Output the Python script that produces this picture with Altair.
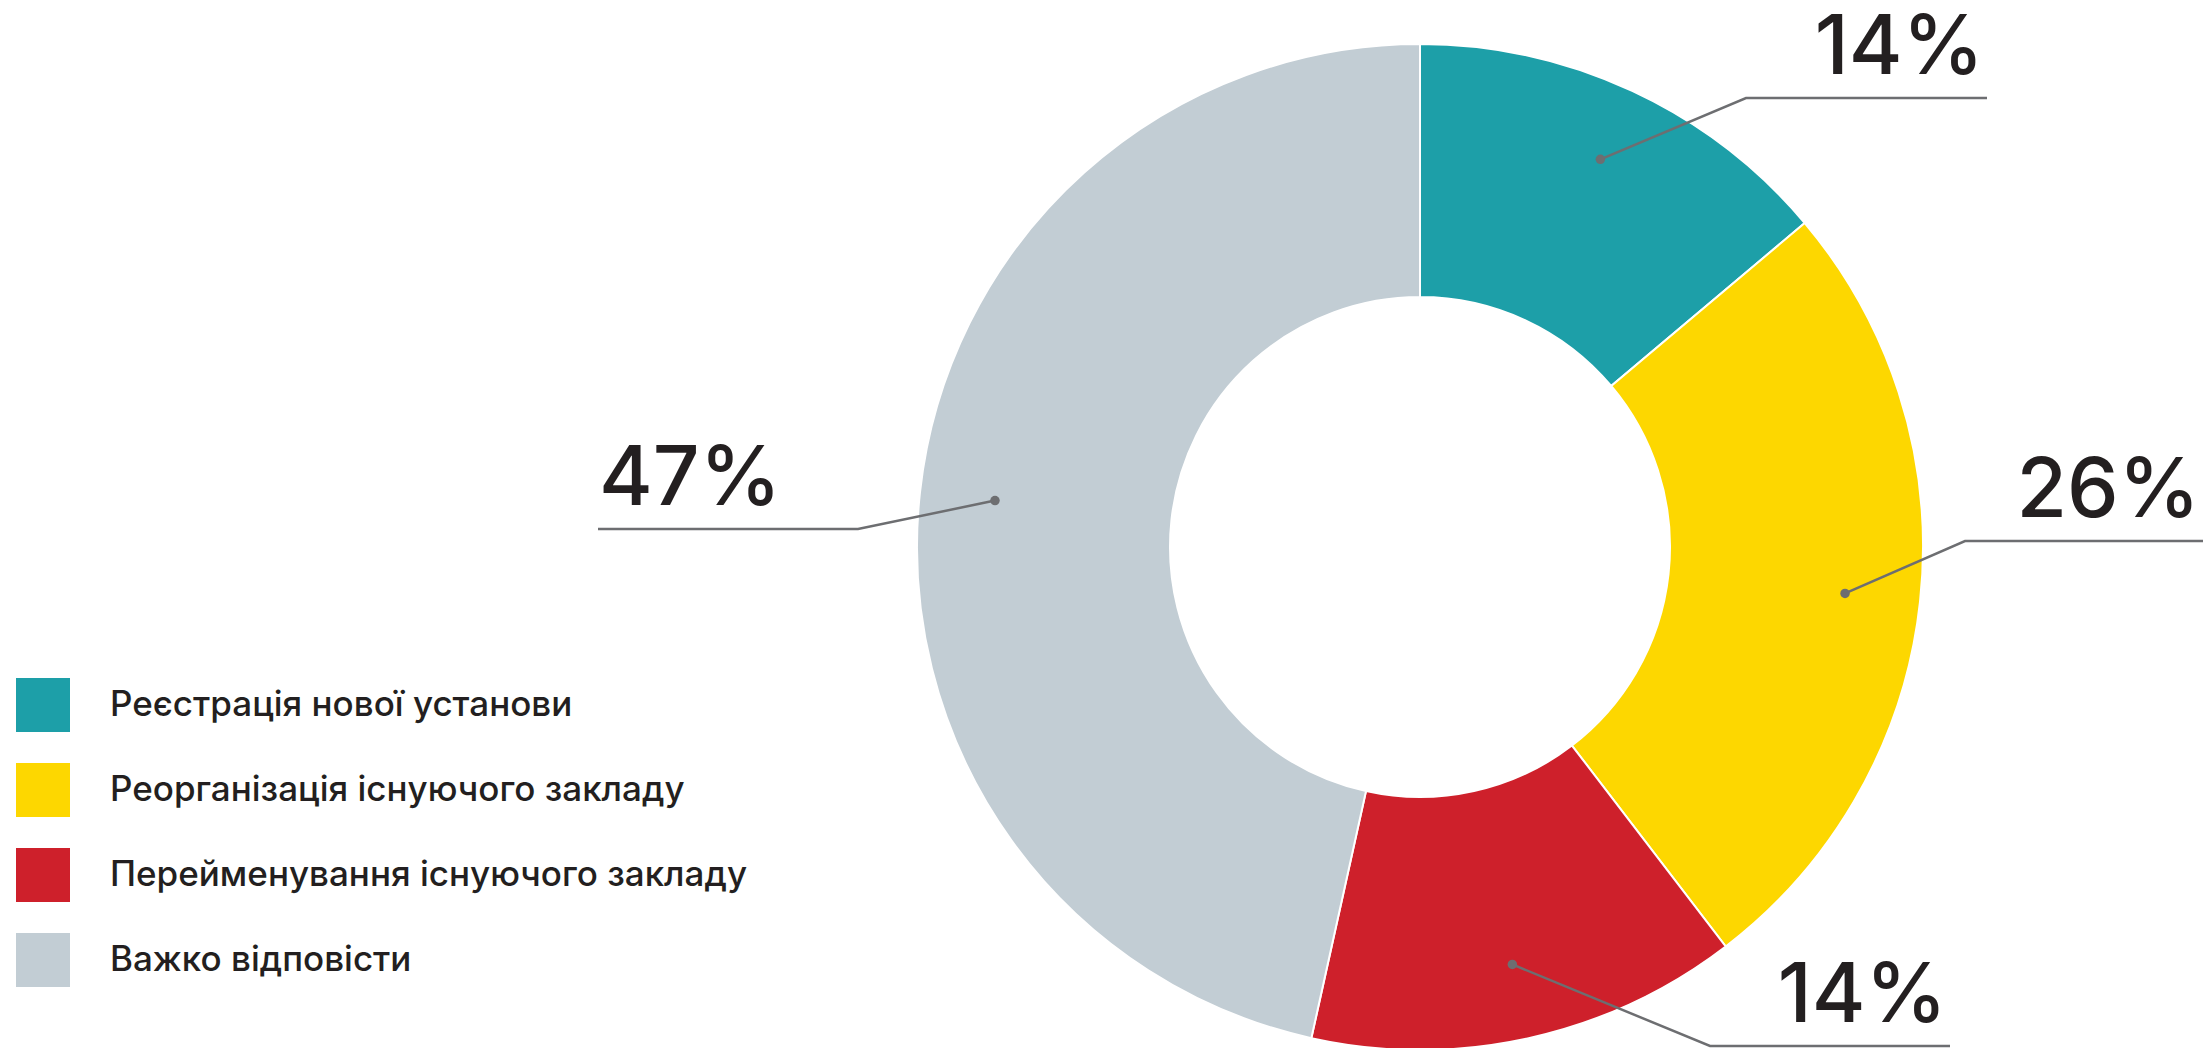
import math
import altair as alt
import pandas as pd

# ---- data ----
categories = [
    "Реєстрація нової установи",
    "Реорганізація існуючого закладу",
    "Перейменування існуючого закладу",
    "Важко відповісти",
]
values = [14, 26, 14, 47]
labels = ["14%", "26%", "14%", "47%"]

# ---- styles / layout ----
colors = ["#1d9fa8", "#fdd700", "#ce202b", "#c2cdd4"]
W, H = 2196, 1040
CX, CY = 1420, 547          # donut centre (page px)
R_OUT, R_IN = 503, 250
DOT_R = 0.85                # dot radius as a fraction of outer radius
ELBOWS = [(1746, 98), (1965, 541), (1710, 1046), (858, 529)]
ENDS_X = [1987, 2203, 1950, 598]
SIDE = ["right", "right", "right", "left"]
INK = "#231f20"
LINE = "#6d6e71"

total = sum(values)
slices = pd.DataFrame({"cat": categories, "val": values, "idx": list(range(len(values)))})

# leader lines derived from each slice's mid angle
line_rows, dot_rows, text_rows = [], [], []
cum = 0
for i, v in enumerate(values):
    mid = (cum + v / 2) / total * 2 * math.pi
    cum += v
    dx = CX + DOT_R * R_OUT * math.sin(mid)
    dy = CY - DOT_R * R_OUT * math.cos(mid)
    ex, ey = ELBOWS[i]
    pts = [(dx, dy), (ex, ey), (ENDS_X[i], ey)]
    for k, (px, py) in enumerate(pts):
        line_rows.append({"id": i, "k": k, "x": px, "y": py})
    dot_rows.append({"id": i, "x": dx, "y": dy})
    tx = ENDS_X[i] - 3 if SIDE[i] == "right" else ENDS_X[i] + 1
    text_rows.append({"id": i, "x": tx, "y": ey - 24, "t": labels[i], "side": SIDE[i]})

lines = pd.DataFrame(line_rows)
dots = pd.DataFrame(dot_rows)
texts = pd.DataFrame(text_rows)

xs = alt.Scale(domain=[8, 8 + W], nice=False, zero=False)
ys = alt.Scale(domain=[8 + H, 8], nice=False, zero=False)

arc = alt.Chart(slices).mark_arc(
    outerRadius=R_OUT, innerRadius=R_IN, stroke="white", strokeWidth=2
).encode(
    theta=alt.Theta("val:Q", stack=True),
    order=alt.Order("idx:Q"),
    color=alt.Color(
        "cat:N",
        scale=alt.Scale(domain=categories, range=colors),
        legend=alt.Legend(
            title=None,
            orient="none",
            legendX=8,
            legendY=670,
            padding=0,
            symbolType="square",
            symbolSize=54 * 54,
            symbolStrokeWidth=0,
            symbolOpacity=1,
            rowPadding=31,
            labelOffset=40,
            labelFont="Inter",
            labelFontSize=35,
            labelFontWeight=500,
            labelColor=INK,
            labelLimit=0,
        ),
    ),
    x=alt.datum(CX, scale=xs, axis=None),
    y=alt.datum(CY, scale=ys, axis=None),
)

leader = alt.Chart(lines).mark_line(color=LINE, strokeWidth=2.5, clip=False).encode(
    x=alt.X("x:Q", scale=xs, axis=None),
    y=alt.Y("y:Q", scale=ys, axis=None),
    detail="id:N",
    order="k:Q",
)

dot = alt.Chart(dots).mark_circle(color=LINE, size=90, opacity=1).encode(
    x=alt.X("x:Q", scale=xs, axis=None),
    y=alt.Y("y:Q", scale=ys, axis=None),
)

txt_r = alt.Chart(texts).transform_filter(alt.datum.side == "right").mark_text(
    align="right", baseline="alphabetic", font="Inter", fontSize=82, fontWeight=500, color=INK
).encode(
    x=alt.X("x:Q", scale=xs, axis=None),
    y=alt.Y("y:Q", scale=ys, axis=None),
    text="t:N",
)
txt_l = alt.Chart(texts).transform_filter(alt.datum.side == "left").mark_text(
    align="left", baseline="alphabetic", font="Inter", fontSize=82, fontWeight=500, color=INK
).encode(
    x=alt.X("x:Q", scale=xs, axis=None),
    y=alt.Y("y:Q", scale=ys, axis=None),
    text="t:N",
)

chart = alt.layer(arc, leader, dot, txt_r, txt_l).properties(
    width=W, height=H, padding=0, autosize=alt.AutoSizeParams(type="none")
).configure_view(strokeWidth=0)

chart.save("out.html", embed_options={"renderer": "svg", "actions": False})
